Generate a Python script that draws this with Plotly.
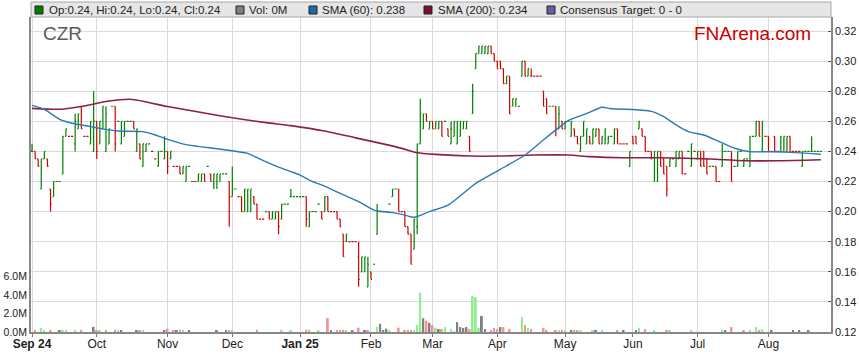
import pandas as pd
import plotly.graph_objects as go

# ---------------- data ----------------
dates = pd.bdate_range("2024-09-02", periods=257)

opens = [
    # Sep
    .24, .24, .235, .215, .235, .235, .215, .21, .22, .22, .225, .25, .25, .25, .245, .255, .27, .25, .25, .245, .24,
    # Oct
    .26, .245, .255, .24, .245, .27, .27, .26, .245, .25, .26, .26, .26, .24, .245, .23, .24, .245, .24, .235, .23, .24, .235,
    # Nov
    .24, .235, .23, .23, .23, .225, .22, .23, .22, .22, .22, .22, .225, .23, .225, .22, .22, .22, .225, .225, .22,
    # Dec
    .21, .215, .21, .21, .20, .20, .20, .21, .205, .195, .195, .20, .20, .195, .195, .20, .195, .205, .205, .21, .21, .21,
    # Jan
    .21, .21, .21, .19, .20, .20, .205, .20, .20, .21, .20, .20, .20, .195, .185, .18, .18, .18, .18, .17, .16, .16, .15,
    # Feb
    .16, .165, .185, .20, .20, .20, .205, .21, .215, .215, .20, .20, .19, .185, .175, .19, .245, .255, .265, .255,
    # Mar
    .26, .255, .255, .26, .26, .255, .245, .25, .245, .25, .255, .255, .25, .265, .295, .305, .305, .305, .305, .31, .305,
    # Apr
    .30, .30, .295, .285, .29, .27, .27, .27, .29, .30, .29, .29, .29, .29, .29, .28, .275, .27, .27, .27, .255, .26,
    # May
    .255, .26, .25, .255, .25, .24, .25, .245, .25, .245, .25, .255, .245, .245, .245, .25, .245, .255, .245, .245, .245, .23,
    # Jun
    .25, .25, .255, .255, .25, .24, .24, .22, .22, .24, .235, .23, .23, .235, .23, .235, .24, .225, .24, .23, .24,
    # Jul
    .235, .24, .24, .235, .23, .23, .23, .22, .23, .24, .24, .24, .23, .23, .24, .23, .235, .23, .25, .25, .26, .24, .25,
    # Aug
    .25, .24, .25, .24, .24, .24, .24, .25, .24, .24, .24, .23, .24, .24, .24, .24, .24, .24,
]
highs = [
    .245, .24, .235, .235, .24, .235, .215, .22, .22, .22, .25, .255, .25, .25, .265, .265, .27, .25, .25, .26, .28,
    .26, .26, .27, .27, .255, .27, .27, .26, .26, .26, .26, .26, .26, .255, .245, .245, .245, .245, .24, .235, .24, .24, .25,
    .24, .24, .23, .23, .23, .23, .23, .23, .22, .22, .225, .225, .225, .23, .225, .225, .225, .225, .225, .225, .22,
    .23, .215, .21, .21, .215, .215, .215, .21, .205, .195, .195, .20, .20, .20, .20, .20, .205, .205, .205, .215, .21, .21,
    .21, .21, .21, .20, .20, .20, .205, .20, .21, .21, .20, .20, .20, .195, .185, .185, .18, .18, .18, .18, .17, .17, .17,
    .16, .165, .205, .20, .20, .20, .205, .215, .215, .215, .20, .20, .19, .185, .195, .245, .275, .265, .265, .26,
    .26, .26, .26, .26, .26, .255, .26, .26, .26, .26, .26, .26, .25, .285, .305, .31, .31, .31, .31, .31, .305,
    .30, .30, .295, .29, .29, .275, .275, .27, .30, .30, .295, .295, .29, .29, .29, .28, .275, .27, .27, .27, .27, .26,
    .26, .26, .26, .255, .25, .25, .26, .255, .25, .255, .255, .255, .25, .255, .25, .25, .255, .255, .245, .245, .245, .24,
    .25, .25, .26, .255, .25, .24, .24, .24, .24, .24, .235, .23, .235, .235, .24, .24, .24, .225, .24, .245, .24,
    .24, .24, .24, .235, .23, .23, .23, .22, .245, .24, .24, .24, .23, .24, .24, .235, .235, .25, .25, .26, .26, .26, .25,
    .25, .24, .25, .24, .25, .25, .25, .25, .24, .24, .24, .24, .24, .24, .25, .24, .24, .24,
]
lows = [
    .24, .235, .23, .215, .235, .23, .20, .21, .22, .22, .225, .25, .25, .25, .24, .255, .255, .25, .25, .245, .24,
    .235, .245, .255, .24, .245, .27, .24, .26, .245, .25, .26, .26, .255, .24, .235, .23, .24, .245, .24, .235, .23, .24, .235,
    .225, .235, .23, .23, .225, .225, .22, .23, .22, .22, .22, .22, .22, .23, .22, .215, .215, .22, .225, .225, .19,
    .21, .215, .21, .20, .20, .20, .20, .205, .195, .195, .195, .20, .195, .195, .195, .185, .195, .205, .205, .21, .21, .21,
    .21, .21, .19, .19, .20, .20, .205, .195, .20, .20, .20, .20, .195, .19, .17, .18, .18, .18, .18, .15, .16, .16, .15,
    .155, .165, .185, .20, .20, .20, .205, .21, .215, .20, .20, .19, .185, .165, .175, .185, .245, .255, .26, .255,
    .255, .255, .255, .25, .26, .25, .245, .25, .245, .25, .255, .255, .24, .265, .295, .305, .305, .305, .305, .305, .30,
    .295, .295, .285, .285, .265, .27, .27, .27, .29, .29, .29, .29, .29, .29, .29, .27, .265, .27, .27, .25, .255, .255,
    .255, .26, .25, .25, .245, .24, .25, .245, .245, .245, .25, .245, .245, .245, .245, .25, .245, .245, .245, .245, .245, .23,
    .245, .245, .255, .25, .24, .24, .235, .22, .22, .23, .225, .21, .23, .235, .23, .235, .225, .225, .24, .23, .24,
    .235, .23, .23, .225, .23, .23, .22, .22, .23, .24, .24, .22, .23, .23, .24, .23, .235, .23, .25, .25, .25, .24, .25,
    .24, .24, .24, .24, .24, .24, .24, .24, .24, .24, .24, .23, .24, .24, .24, .24, .24, .24,
]
closes = [
    .24, .235, .23, .235, .24, .23, .205, .22, .22, .22, .25, .255, .25, .25, .26, .265, .255, .25, .25, .26, .26,
    .24, .26, .27, .265, .255, .27, .245, .26, .26, .26, .26, .26, .255, .255, .235, .245, .245, .245, .24, .235, .24, .24, .24,
    .23, .24, .23, .23, .225, .23, .23, .23, .22, .22, .225, .225, .22, .23, .22, .225, .225, .225, .225, .225, .21,
    .215, .215, .21, .20, .215, .215, .215, .205, .195, .195, .195, .20, .195, .20, .20, .19, .205, .205, .205, .21, .21, .21,
    .21, .21, .195, .20, .20, .20, .205, .195, .21, .20, .20, .20, .195, .19, .17, .185, .18, .18, .18, .155, .17, .17, .165,
    .155, .165, .20, .20, .20, .20, .205, .215, .215, .20, .20, .19, .185, .165, .195, .245, .265, .265, .26, .26,
    .255, .26, .26, .25, .26, .25, .255, .26, .26, .26, .26, .26, .24, .28, .305, .31, .31, .31, .31, .305, .30,
    .295, .295, .285, .29, .265, .275, .275, .27, .30, .29, .295, .29, .29, .29, .29, .27, .265, .27, .27, .255, .265, .255,
    .26, .26, .26, .25, .245, .25, .26, .255, .245, .255, .255, .245, .25, .255, .25, .25, .255, .245, .245, .245, .245, .24,
    .245, .245, .26, .25, .24, .24, .235, .24, .24, .23, .225, .215, .235, .235, .24, .24, .225, .225, .24, .245, .24,
    .24, .23, .23, .225, .23, .23, .22, .22, .24, .24, .24, .22, .23, .24, .24, .235, .235, .25, .25, .26, .25, .26, .25,
    .24, .24, .24, .24, .25, .25, .25, .24, .24, .24, .24, .24, .24, .24, .24, .24, .24, .24,
]
volumes_m = [
    0, .11, 0, .43, .14, 0, .14, 0, 0, .11, .25, .11, 0, 0, .11, 0, .25, 0, 0, 0, .55,
    .14, .11, 0, .14, 0, 0, .25, .14, .14, 0, 0, 0, 0, .11, .22, .22, 0, 0, 0, 0, 0, 0, .11,
    .36, 0, .14, .14, .25, .25, 0, .11, 0, 0, 0, 0, 0, 0, 0, 0, .11, 0, 0, .11, .11,
    .11, 0, 0, 0, 0, 0, 0, 0, .25, 0, 0, 0, 0, 0, 0, 0, .25, 0, 0, .14, 0, 0,
    0, 0, .25, .25, 0, 0, .11, 0, 0, 1.5, .11, 0, .14, .14, .25, .14, 0, .14, 0, .47, 0, .14, .14,
    0, 0, .58, .9, .14, .36, .14, 0, 0, .47, 0, .14, .14, .14, .14, .76, 4.25, 1.5, 1.22, 1.0,
    .76, .47, .32, .32, .54, 0, .32, .07, 1.08, .54, .43, .54, .32, 3.9, 3.78, .43, 1.73, .32, 0, .14, .43,
    .32, .54, .54, 0, .32, 0, 0, 0, 1.62, .76, .43, .32, 0, 0, 0, .43, .14, 0, 0, .11, .11, .11,
    .11, 0, .11, .11, .11, .11, 0, 0, 0, .11, .11, 0, .11, 0, 0, 0, 0, .11, 0, .11, 0, 0,
    0, .11, .43, 0, .32, 0, 0, .11, 0, 0, 0, .11, .11, 0, 0, 0, 0, 0, 0, .11, 0,
    0, 0, 0, 0, 0, 0, 0, 0, .25, .14, 0, .54, 0, 0, 0, .11, 0, .25, 0, .54, .14, .32, 0,
    0, .11, 0, 0, 0, 0, 0, 0, .11, 0, .11, 0, 0, .22, 0, 0, 0, 0,
]

# moving averages (trading-day index, value)
sma60_day = [0, 4, 6, 9, 13, 19, 22, 28, 36, 40, 44, 50, 55, 60, 65, 70, 74, 80, 84, 87, 91, 94, 100,
             106, 111, 117, 121, 124, 129, 135, 144, 152, 160, 166, 170, 174, 180, 185, 188, 196, 201,
             205, 209, 213, 218, 223, 228, 233, 240, 248, 256]
sma60_val = [.2706, .268, .2653, .2613, .2587, .2565, .2553, .2536, .2531, .2509, .248, .2445, .243, .2418,
             .2404, .2387, .2348, .2295, .2266, .2243, .22, .2177, .2121, .2066, .201, .1993, .1977, .1962,
             .20, .2043, .2187, .2281, .2376, .2477, .2543, .2605, .2652, .2693, .2683, .2677, .2666, .2631,
             .2576, .2531, .2509, .2465, .2421, .2398, .2398, .2392, .2381]
sma200_day = [0, 9, 17, 24, 32, 44, 55, 66, 76, 84, 95, 105, 115, 120, 125, 131, 142, 152, 163, 174, 181,
              192, 204, 220, 231, 242, 256]
sma200_val = [.2686, .268, .2702, .2731, .2746, .2698, .2658, .262, .2591, .2571, .2535, .249, .2445, .242,
              .2391, .238, .2369, .2369, .2376, .2376, .2365, .2358, .2358, .2349, .2338, .2338, .2345]

month_ticks = ["2024-09-02", "2024-10-01", "2024-11-01", "2024-12-02", "2025-01-01", "2025-02-03",
               "2025-03-03", "2025-04-01", "2025-05-01", "2025-06-02", "2025-07-01", "2025-08-01"]
month_labels = ["<b>Sep 24</b>", "Oct", "Nov", "Dec", "<b>Jan 25</b>", "Feb", "Mar", "Apr", "May", "Jun",
                "Jul", "Aug"]
price_ticks = [0.12, 0.14, 0.16, 0.18, 0.20, 0.22, 0.24, 0.26, 0.28, 0.30, 0.32]
vol_ticks = [0, 2, 4, 6]
vol_labels = ["0.0M", "2.0M", "4.0M", "6.0M"]

for arr in (opens, highs, lows, closes, volumes_m):
    assert len(arr) == len(dates), len(arr)

# ---------------- styling ----------------
GREEN = "#008000"
RED = "#d00000"
VOL_UP = "#90ee90"
VOL_DN = "#f49494"
VOL_FLAT = "#808080"
BLUE = "#2a7ab8"
MAROON = "#8e1f48"
FONT = "Liberation Sans, Arial, sans-serif"

W, H = 859, 363
ML, MR, MT, MB = 31, 28, 17, 31
PW, PH = W - ML - MR, H - MT - MB


def px(x):
    return (x - ML) / PW


def py(y):
    return (H - MB - y) / PH


vol_colors = []
for i, c in enumerate(closes):
    prev = closes[i - 1] if i > 0 else opens[0]
    vol_colors.append(VOL_UP if c > prev else (VOL_DN if c < prev else VOL_FLAT))

fig = go.Figure()
fig.add_trace(go.Bar(x=dates, y=volumes_m, marker=dict(color=vol_colors, line=dict(width=0)),
                     width=0.6 * 86400000, yaxis="y2", hoverinfo="skip"))
fig.add_trace(go.Ohlc(x=dates, open=opens, high=highs, low=lows, close=closes,
                      increasing=dict(line=dict(color=GREEN, width=1.2)),
                      decreasing=dict(line=dict(color=RED, width=1.2)),
                      tickwidth=0.35, yaxis="y"))
fig.add_trace(go.Scatter(x=dates[sma200_day], y=sma200_val, mode="lines",
                         line=dict(color=MAROON, width=1.6, shape="spline", smoothing=0.6), yaxis="y"))
fig.add_trace(go.Scatter(x=dates[sma60_day], y=sma60_val, mode="lines",
                         line=dict(color=BLUE, width=1.4, shape="spline", smoothing=0.6), yaxis="y"))

shapes = []
annotations = []
# legend bar
shapes.append(dict(type="rect", xref="paper", yref="paper", x0=0, x1=1, y0=py(17), y1=py(2),
                   fillcolor="#e6e6e6", line=dict(color="#a8a8a8", width=1), layer="above"))
legend_items = [
    (35, GREEN, 47, "Op:0.24, Hi:0.24, Lo:0.24, Cl:0.24"),
    (236, "#808080", 247, "Vol: 0M"),
    (309, "#1c6aa6", 320, "SMA (60): 0.238"),
    (424, "#7e0f35", 436, "SMA (200): 0.234"),
    (547, "#60609a", 558, "Consensus Target: 0 - 0"),
]
for sx, col, tx, label in legend_items:
    shapes.append(dict(type="rect", xref="paper", yref="paper", x0=px(sx), x1=px(sx + 8),
                       y0=py(14), y1=py(6), fillcolor=col, line=dict(color="#222", width=1), layer="above"))
    annotations.append(dict(x=px(tx), y=py(10), xref="paper", yref="paper", text=label, showarrow=False,
                            xanchor="left", yanchor="middle", font=dict(family=FONT, size=11.5, color="#222")))
annotations.append(dict(x=px(41), y=py(33), xref="paper", yref="paper", text="CZR", showarrow=False,
                        xanchor="left", yanchor="middle", font=dict(family=FONT, size=19, color="#5a5a5a")))
annotations.append(dict(x=px(692), y=py(33), xref="paper", yref="paper", text="FNArena.com", showarrow=False,
                        xanchor="left", yanchor="middle", font=dict(family=FONT, size=19, color="#cc0000")))

fig.update_layout(
    width=W, height=H,
    margin=dict(l=ML, r=MR, t=MT, b=MB, autoexpand=False),
    paper_bgcolor="white", plot_bgcolor="white",
    showlegend=False,
    font=dict(family=FONT, size=12, color="#222"),
    shapes=shapes, annotations=annotations,
    xaxis=dict(
        type="date",
        range=["2024-08-30 16:00", "2025-08-29 07:00"],
        rangebreaks=[dict(bounds=["sat", "mon"])],
        rangeslider=dict(visible=False),
        tickvals=month_ticks, ticktext=month_labels,
        showgrid=True, gridcolor="#dadada", gridwidth=1,
        ticks="outside", ticklen=3, tickcolor="#777",
        ticklabelstandoff=-3,
        showline=True, linecolor="#888", linewidth=1.5,
        tickfont=dict(family=FONT, size=12, color="#222"),
        automargin=False, fixedrange=True,
    ),
    yaxis=dict(
        side="right", range=[0.12, 0.3293],
        tickvals=price_ticks, tickformat=".2f",
        showgrid=True, gridcolor="#dadada", gridwidth=1,
        ticks="inside", ticklen=3, tickcolor="#555",
        showline=True, linecolor="#888", linewidth=1.5, zeroline=False,
        tickfont=dict(family=FONT, size=11, color="#222"),
        automargin=False,
    ),
    yaxis2=dict(
        overlaying="y", side="left", range=[0, 34.2],
        tickvals=vol_ticks, ticktext=vol_labels,
        showgrid=False, zeroline=False,
        showline=True, linecolor="#888", linewidth=2,
        ticks="",
        tickfont=dict(family=FONT, size=10.5, color="#222"),
        automargin=False,
    ),
)

fig.write_html("out.html", config={"displayModeBar": False},
               post_script="document.body.style.margin='0px';document.body.style.overflow='hidden';")
